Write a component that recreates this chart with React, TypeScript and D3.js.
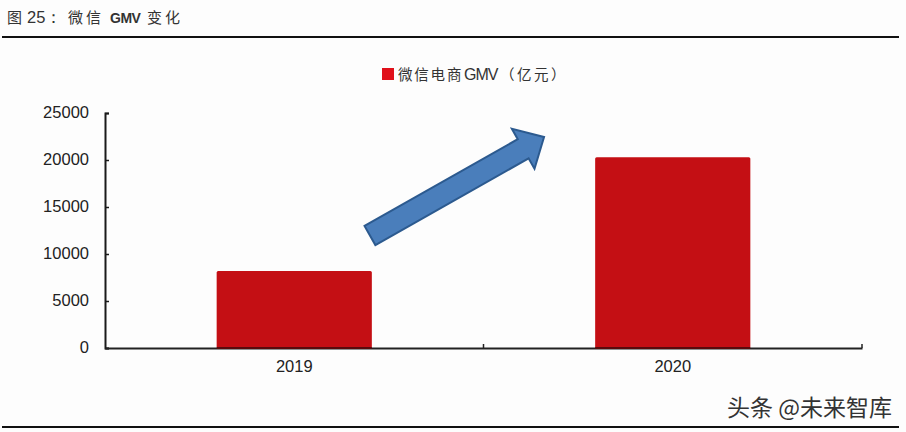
import { useEffect, useRef } from 'react';
import * as d3 from 'd3';

const years = ['2019', '2020'];
const gmv = [8200, 20300];
const yTicks = [0, 5000, 10000, 15000, 20000, 25000];
const watermark = '头条 @未来智库';

// arrow ends: x as a share of the plot width, y as an axis value
const arrowFrom = { x: 0.35, value: 11970 };
const arrowTo = { x: 0.58, value: 22450 };

const width = 906;
const height = 432;
const margin = { top: 113, right: 44, bottom: 84, left: 105 };
const cjk = '"Noto Sans CJK SC", "Noto Sans", sans-serif';
const latin = '"Liberation Sans", Arial, sans-serif';

const App: React.FC = () => {
  const svgRef = useRef<SVGSVGElement>(null);

  useEffect(() => {
    if (!svgRef.current) return;

    const svg = d3.select(svgRef.current);
    svg.selectAll('*').remove();

    svg.append('rect')
      .attr('width', width)
      .attr('height', height)
      .attr('fill', '#fdfdfd');

    const innerWidth = width - margin.left - margin.right;
    const innerHeight = height - margin.top - margin.bottom;
    const g = svg.append('g')
      .attr('transform', `translate(${margin.left},${margin.top})`);

    const xScale = d3.scaleBand<string>()
      .domain(years)
      .range([0, innerWidth])
      .paddingInner(0.59)
      .paddingOuter(0.295);

    const yScale = d3.scaleLinear()
      .domain([0, 25000])
      .range([innerHeight, 0]);

    // Bars
    g.selectAll('.bar')
      .data(years)
      .join('rect')
      .attr('class', 'bar')
      .attr('x', d => xScale(d) || 0)
      .attr('y', (_, i) => yScale(gmv[i]))
      .attr('width', xScale.bandwidth())
      .attr('height', (_, i) => innerHeight - yScale(gmv[i]))
      .attr('rx', 1.5)
      .attr('fill', '#c40f14');

    // Y axis, ticks point into the plot
    const yAxis = g.append('g')
      .call(d3.axisLeft(yScale).tickValues(yTicks).tickSize(-4).tickPadding(16).tickFormat(d => String(d)));
    yAxis.selectAll('.domain').attr('stroke', '#1a1a1a').attr('stroke-width', 2);
    yAxis.selectAll('.tick line').attr('stroke', '#1a1a1a').attr('stroke-width', 1.5);
    yAxis.selectAll('text')
      .attr('font-family', latin)
      .attr('font-size', 16.5)
      .attr('dy', '0.27em')
      .attr('fill', '#222');

    // X axis
    const xAxis = g.append('g')
      .attr('transform', `translate(0,${innerHeight})`)
      .call(d3.axisBottom(xScale).tickSize(0).tickPadding(12));
    xAxis.selectAll('.domain').attr('stroke', '#222').attr('stroke-width', 2);
    xAxis.selectAll('text')
      .attr('font-family', latin)
      .attr('font-size', 16.5)
      .attr('fill', '#222');

    // small upward ticks between the categories and at the end
    g.selectAll('.x-sep')
      .data([0.5, 1])
      .join('line')
      .attr('class', 'x-sep')
      .attr('x1', d => d * innerWidth)
      .attr('x2', d => d * innerWidth)
      .attr('y1', innerHeight)
      .attr('y2', innerHeight - 4)
      .attr('stroke', '#222')
      .attr('stroke-width', 1.5);

    // dark edge where the bars sit on the axis
    g.selectAll('.bar-foot')
      .data(years)
      .join('line')
      .attr('class', 'bar-foot')
      .attr('x1', d => xScale(d) || 0)
      .attr('x2', d => (xScale(d) || 0) + xScale.bandwidth())
      .attr('y1', innerHeight)
      .attr('y2', innerHeight)
      .attr('stroke', '#5a0a0c')
      .attr('stroke-width', 2);

    // Arrow
    const x0 = arrowFrom.x * innerWidth;
    const y0 = yScale(arrowFrom.value);
    const x1 = arrowTo.x * innerWidth;
    const y1 = yScale(arrowTo.value);
    const len = Math.hypot(x1 - x0, y1 - y0);
    const ux = (x1 - x0) / len;
    const uy = (y1 - y0) / len;
    const headLen = 24;
    const shaft = 11;
    const head = 23;
    const at = (along: number, side: number): [number, number] => [
      x0 + ux * along - uy * side,
      y0 + uy * along + ux * side,
    ];
    const arrowLine = d3.line();
    g.append('path')
      .attr('d', arrowLine([
        at(0, -shaft),
        at(len - headLen, -shaft),
        at(len - headLen, -head),
        at(len, 0),
        at(len - headLen, head),
        at(len - headLen, shaft),
        at(0, shaft),
      ]) + 'Z')
      .attr('fill', '#4a7ebb')
      .attr('stroke', '#2c5a8f')
      .attr('stroke-width', 2)
      .attr('stroke-linejoin', 'miter');

    // Legend
    svg.append('rect')
      .attr('x', 382)
      .attr('y', 68)
      .attr('width', 12)
      .attr('height', 12)
      .attr('fill', '#e0101a');
    const legend = svg.append('text')
      .attr('y', 80)
      .attr('font-family', cjk)
      .attr('font-size', 14.5)
      .attr('fill', '#333');
    legend.append('tspan').attr('x', 398).attr('letter-spacing', 1.8).text('微信电商');
    legend.append('tspan').attr('x', 464).attr('font-family', latin).attr('font-size', 16).attr('letter-spacing', -1).text('GMV');
    legend.append('tspan').attr('x', 500).attr('letter-spacing', 2.5).text('（亿元）');

    // Title and rules
    const title = svg.append('text')
      .attr('y', 23)
      .attr('font-family', cjk)
      .attr('font-size', 15)
      .attr('fill', '#333');
    title.append('tspan').attr('x', 7).text('图');
    title.append('tspan').attr('x', 27).attr('font-family', latin).attr('font-size', 16.5).text('25：');
    title.append('tspan').attr('x', 68).attr('letter-spacing', 3).text('微信');
    title.append('tspan').attr('x', 110).attr('font-family', latin).attr('font-weight', 'bold').attr('font-size', 14).attr('letter-spacing', -0.5).text('GMV');
    title.append('tspan').attr('x', 147).attr('letter-spacing', 3).text('变化');

    svg.selectAll('.rule')
      .data([37, 427])
      .join('line')
      .attr('class', 'rule')
      .attr('x1', 2)
      .attr('x2', 899)
      .attr('y1', d => d)
      .attr('y2', d => d)
      .attr('stroke', '#111')
      .attr('stroke-width', 2);

    // Watermark
    svg.append('text')
      .attr('x', 727)
      .attr('y', 416)
      .attr('font-family', cjk)
      .attr('font-size', 23)
      .attr('fill', '#333')
      .text(watermark);
  }, []);

  return (
    <svg
      ref={svgRef}
      width={width}
      height={height}
      style={{ position: 'absolute', left: 0, top: 0 }}
    />
  );
};

export default App;
